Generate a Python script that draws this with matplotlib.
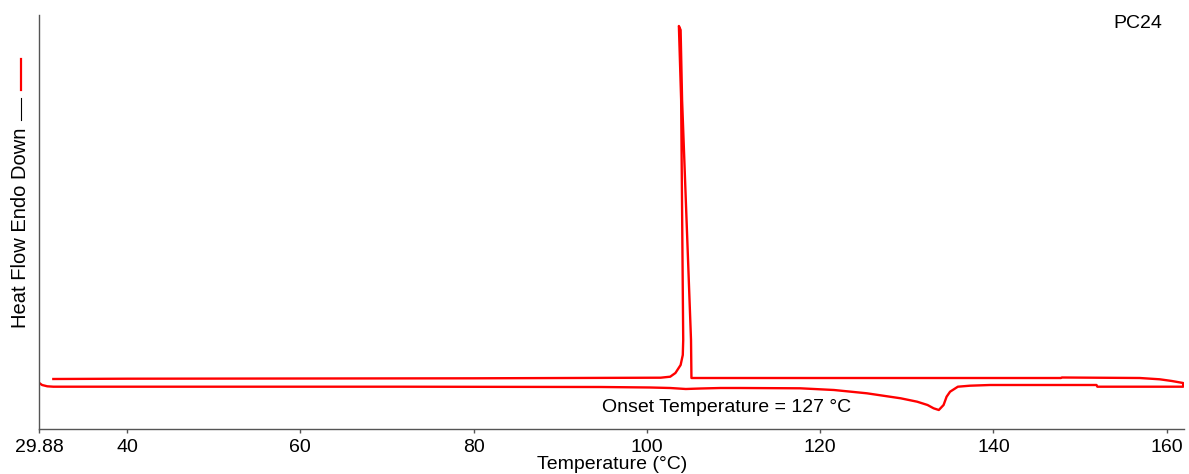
import numpy as np
import matplotlib
matplotlib.use("Agg")
from matplotlib import pyplot as plt
from matplotlib.lines import Line2D

plt.rcParams['font.family'] = ['Liberation Sans', 'DejaVu Sans']

# heating run (temperature rising)
temp_heat = [29.88, 30.2, 30.8, 31.5, 48.5, 71.6, 94.7, 100.4, 102.7, 104.5, 106.2, 108.5,
             110.8, 117.7, 121.6, 125.4, 129.3, 131.2, 132.4, 133.1, 133.7, 134.25, 134.6,
             135.0, 135.9, 137.3, 139.6, 151.9, 152.0, 161.9]
hf_heat = [0.46, 0.44, 0.427, 0.423, 0.423, 0.423, 0.42, 0.415, 0.41, 0.40, 0.405, 0.41,
           0.41, 0.407, 0.39, 0.357, 0.307, 0.273, 0.24, 0.207, 0.19, 0.24, 0.323,
           0.373, 0.423, 0.433, 0.44, 0.44, 0.423, 0.423]

# cooling run (temperature falling, crystallisation peak near 104 C)
temp_cool = [161.9, 161.9, 161.7, 160.6, 159.2, 156.9, 147.9, 147.8, 120, 106, 105.15, 105.1,
             104.07, 103.9, 103.7, 103.96, 104.2, 104.15, 103.9, 103.3, 102.7, 101.6, 80,
             60, 40, 31.5]
hf_cool = [0.423, 0.46, 0.463, 0.48, 0.497, 0.51, 0.515, 0.51, 0.51, 0.51, 0.51, 0.89,
           3.29, 3.99, 4.03, 3.29, 0.89, 0.74, 0.64, 0.56, 0.523, 0.513, 0.507,
           0.505, 0.503, 0.50]

xticks = [29.88, 40, 60, 80, 100, 120, 140, 160]
xticklabels = ['29.88', '40', '60', '80', '100', '120', '140', '160']

W, H = 1189, 474
fig = plt.figure(figsize=(W / 100, H / 100), dpi=100)
ax = fig.add_axes([39.3 / W, 45 / H, (1184 - 39.3) / W, (429 - 15) / H])

temp = temp_heat + temp_cool
hf = hf_heat + hf_cool
ax.plot(temp, hf, color='#ff0000', lw=1.7, solid_joinstyle='round')

ax.set_xlim(29.88, 162.0)
ax.set_ylim(0, 4.14)
ax.set_xticks(xticks)
ax.set_xticklabels(xticklabels, fontsize=14)
ax.set_yticks([])
ax.tick_params(axis='x', length=3, width=1, color='#555555', pad=4)
for s in ['top', 'right']:
    ax.spines[s].set_visible(False)
for s in ['left', 'bottom']:
    ax.spines[s].set_color('#555555')
    ax.spines[s].set_linewidth(1)

ax.set_xlabel('Temperature (°C)', fontsize=14, labelpad=0)

fig.text(1138 / W, 1 - 23 / H, 'PC24', fontsize=14, ha='center', va='center')
fig.text(727 / W, 1 - 407 / H, 'Onset Temperature = 127 °C', fontsize=14, ha='center', va='center')

# y label with legend markers
fig.text(21 / W, 1 - 228 / H, 'Heat Flow Endo Down', fontsize=14.5, rotation=90,
         ha='center', va='center')
fig.add_artist(Line2D([21 / W, 21 / W], [1 - 120 / H, 1 - 98 / H], color='black', lw=0.8,
                      transform=fig.transFigure))
fig.add_artist(Line2D([21 / W, 21 / W], [1 - 90 / H, 1 - 59 / H], color='#ff0000', lw=1.6,
                      transform=fig.transFigure))

fig.savefig('out.png', dpi=100)
